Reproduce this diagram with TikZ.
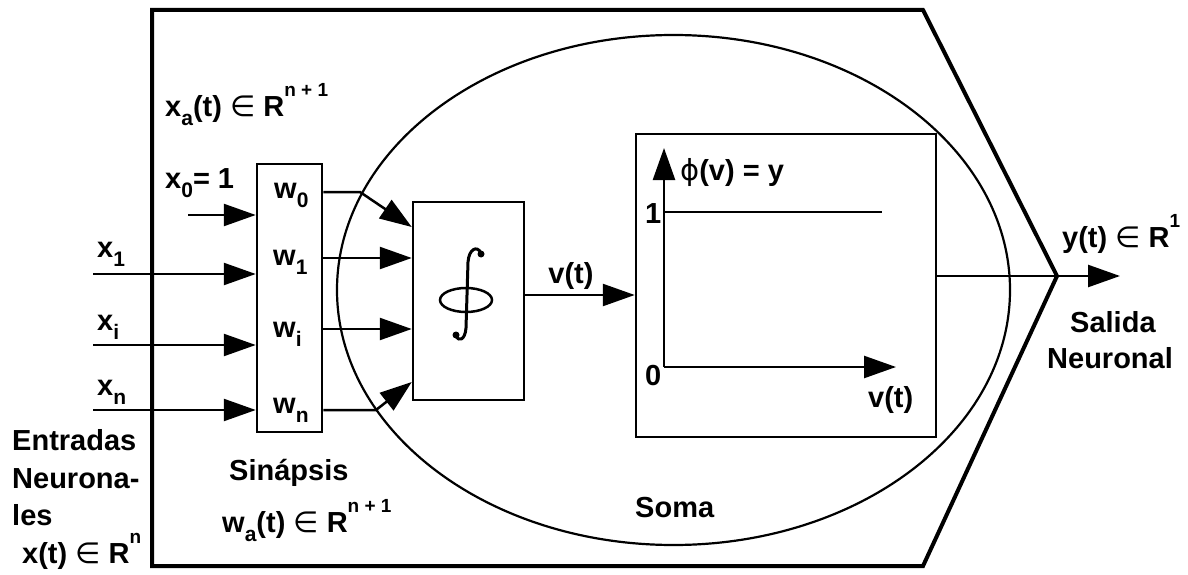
\documentclass[tikz,border=0pt]{standalone}
\usepackage{fontspec}
\setmainfont{Liberation Sans}
\newfontfamily\dejavu{DejaVu Sans}
\usetikzlibrary{arrows.meta}
\newcommand{\sbs}[1]{\raisebox{-9pt}{\fontsize{21}{21}\selectfont #1}}
\newcommand{\sps}[1]{\raisebox{20pt}{\fontsize{19}{19}\selectfont #1}}
\newcommand{\elem}{{\dejavu\mdseries ∈}}
\newcommand{\phisym}{{\dejavu\mdseries ϕ}}
\begin{document}
\begin{tikzpicture}[x=1pt,y=-1pt,
  every node/.style={font=\fontsize{29}{34}\selectfont\bfseries, inner sep=0pt},
  lbl/.style={anchor=base west},
  box/.style={draw, line width=2.5pt, fill=white},
  arr/.style={-{Triangle[length=32pt,width=22pt]}, line width=2.5pt},
  ln/.style={line width=2.5pt}]
\useasboundingbox (0,0) rectangle (1188,575);
% outer frame
\draw[line width=4pt, line join=miter] (152,10) -- (923,10) -- (1057,276) -- (923,566) -- (152,566) -- cycle;
% soma ellipse
\draw[line width=2.2pt] (673.5,290) ellipse [x radius=336.5, y radius=255];
% boxes
\node[box, minimum width=65, minimum height=268] (syn) at (289.5,298) {};
\node[box, minimum width=111, minimum height=198] (int) at (468.5,301) {};
\node[box, minimum width=300, minimum height=303] (gr) at (786,285.5) {};
% integral symbol
\draw[line width=2.5pt] (466,300) ellipse [x radius=26, y radius=12];
\draw[line width=3pt] (481,253) .. controls (477,245) and (469,249) .. (468,262) -- (466,328) .. controls (465,340) and (459,342) .. (456,336);
\fill (481,254) circle (3.5);
\fill (456,335) circle (3.5);
% inputs
\coordinate (in0) at (188,215);
\coordinate (in1) at (93,274);
\coordinate (ini) at (93,345);
\coordinate (inn) at (93,410);
\draw[arr] (in0) -- (in0 -| syn.west);
\draw[arr] (in1) -- (in1 -| syn.west);
\draw[arr] (ini) -- (ini -| syn.west);
\draw[arr] (inn) -- (inn -| syn.west);
% synapse outputs
\coordinate (b0) at (360,192);
\coordinate (bn) at (376,410);
\draw[arr] (syn.east |- b0) -- (b0) -- (int.west |- 0,227);
\draw[arr] (syn.east |- 0,258) -- (int.west |- 0,258);
\draw[arr] (syn.east |- 0,329) -- (int.west |- 0,329);
\draw[arr] (syn.east |- bn) -- (bn) -- (int.west |- 0,382);
% v(t)
\draw[arr] (int.east |- 0,295) -- (gr.west |- 0,295);
% output
\coordinate (out) at (1120,276);
\draw[arr] (gr.east |- out) -- (out);
% graph
\coordinate (O) at (664,367);
\coordinate (ytip) at (664,148);
\coordinate (xtip) at (896,367);
\draw[arr] (O) -- (ytip);
\draw[arr] (O) -- (xtip);
\coordinate (s1) at (664,212);
\coordinate (s2) at (882,212);
\draw[ln] (s1) -- (s2);
% labels
\node[lbl] (lxa) at (165,117) {x\sbs{a}(t) \elem{} R\sps{n + 1}};
\node[lbl] (lx0) at (165,188) {x\sbs{0}= 1};
\node[lbl] (lx1) at (97,257) {x\sbs{1}};
\node[lbl] (lxi) at (97,330) {x\sbs{i}};
\node[lbl] (lxn) at (97,395) {x\sbs{n}};
\node[lbl] (lw0) at (274,198) {w\sbs{0}};
\node[lbl] (lw1) at (273,265) {w\sbs{1}};
\node[lbl] (lwi) at (273,337) {w\sbs{i}};
\node[lbl] (lwn) at (273,413) {w\sbs{n}};
\node[lbl] (le1) at (12,450) {Entradas};
\node[lbl] (le2) at (12,488) {Neurona-};
\node[lbl] (le3) at (12,525) {les};
\node[lbl] (le4) at (22,563) {x(t) \elem{} R\sps{n}};
\node[lbl] (lsin) at (229,480) {Sinápsis};
\node[lbl] (lwa) at (222,532) {w\sbs{a}(t) \elem{} R\sps{n + 1}};
\node[lbl] (lsoma) at (635,517) {Soma};
\node[anchor=base] (lvt) at (571,283) {v(t)};
\node[lbl] (lphi) at (680,180) {\phisym(v) = y};
\node[lbl] (l1) at (645,223) {1};
\node[lbl] (l0) at (645,385) {0};
\node[lbl] (lvt2) at (868,407) {v(t)};
\node[lbl] (ly) at (1062,247) {y(t) \elem{} R\sps{1}};
\node[lbl] (ls1) at (1070,332) {Salida};
\node[lbl] (ls2) at (1047,368) {Neuronal};
\end{tikzpicture}
\end{document}
